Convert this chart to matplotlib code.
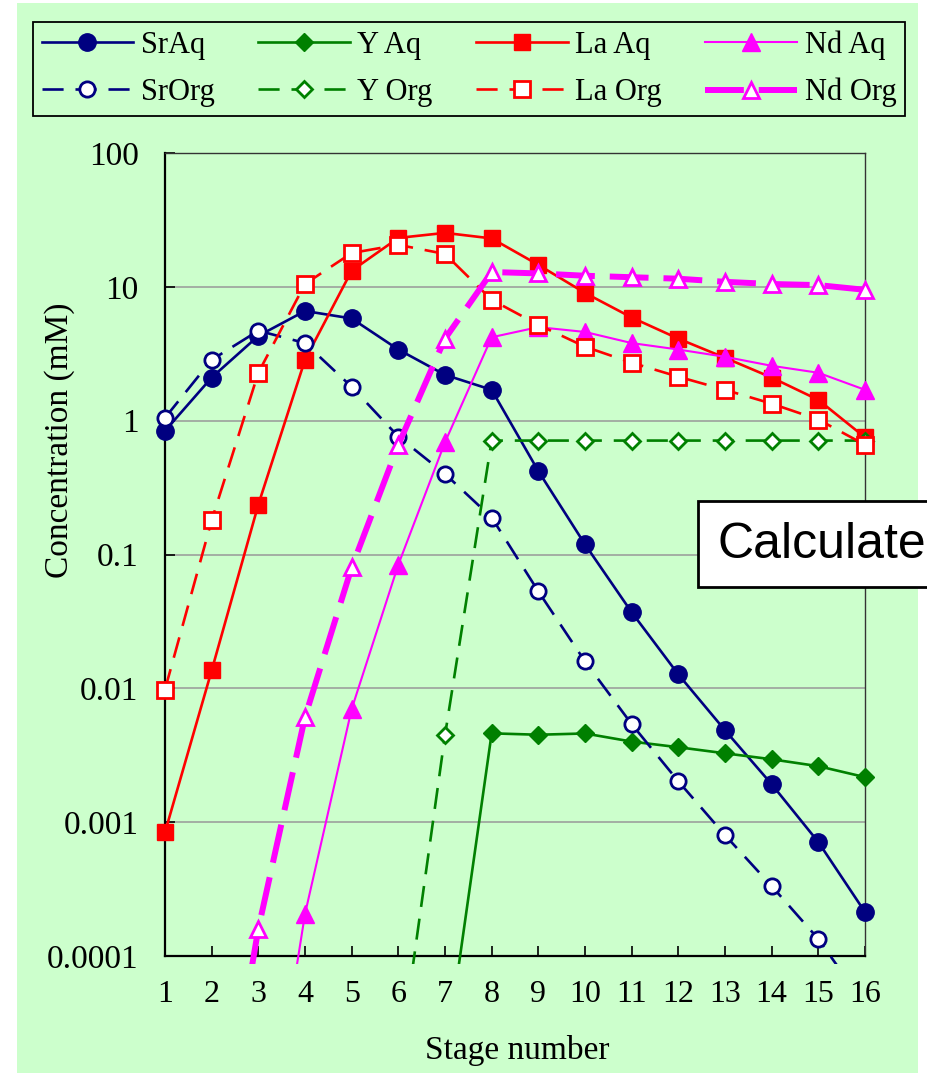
import numpy as np
import matplotlib.pyplot as plt
from matplotlib.patches import Rectangle

# stage numbers
stages = np.arange(1, 17)

# concentrations (mM)
sr_aq = [0.84, 2.1, 4.3, 6.6, 5.8, 3.4, 2.2, 1.7, 0.42, 0.119, 0.037, 0.0127,
         0.00486, 0.00192, 0.00071, 0.000213]
sr_org = [1.05, 2.85, 4.7, 3.8, 1.79, 0.76, 0.40, 0.189, 0.053, 0.0159, 0.0054,
          0.00202, 0.0008, 0.000333, 0.000134, 4.3e-5]
y_aq_stages = np.arange(7, 17)
y_aq = [1.6e-5, 0.00461, 0.0045, 0.0046, 0.0040, 0.00363, 0.00327, 0.00295,
        0.00262, 0.00217]
y_org_stages = np.arange(6, 17)
y_org = [1.4e-5, 0.00446, 0.71, 0.71, 0.71, 0.71, 0.71, 0.71, 0.71, 0.71, 0.71]
la_aq = [0.00084, 0.0136, 0.236, 2.85, 13.2, 23.2, 25.3, 23.0, 14.6, 9.0, 5.9,
         4.1, 2.95, 2.1, 1.43, 0.75]
la_org = [0.0098, 0.18, 2.28, 10.5, 17.9, 20.6, 17.6, 8.0, 5.2, 3.57, 2.71, 2.13,
          1.7, 1.34, 1.02, 0.66]
nd_aq_stages = np.arange(3, 17)
nd_aq = [1.3e-6, 0.000206, 0.0070, 0.084, 0.69, 4.2, 5.0, 4.6, 3.8, 3.4, 3.0,
         2.57, 2.28, 1.7]
nd_org_stages = np.arange(2, 17)
nd_org = [1.4e-6, 0.00016, 0.0061, 0.080, 0.66, 4.1, 12.9, 12.6, 12.1, 11.8, 11.5,
          10.9, 10.5, 10.3, 9.5]

yticks = [1e-4, 1e-3, 1e-2, 1e-1, 1, 10, 100]
ytick_labels = ['0.0001', '0.001', '0.01', '0.1', '1', '10', '100']

W, H = 927, 1073
bg = '#CCFFCC'
navy, green, red, mag = '#000080', '#008000', '#FF0000', '#FF00FF'
serif = ['Liberation Serif', 'DejaVu Serif']

fig = plt.figure(figsize=(W / 100, H / 100), dpi=100, facecolor='white')
fig.add_artist(Rectangle((17 / W, 0), 901 / W, 1070 / H, transform=fig.transFigure,
                         facecolor=bg, edgecolor='none', zorder=-5))

ax = fig.add_axes([165 / W, (H - 956) / H, 700 / W, 803 / H])
ax.set_facecolor(bg)
ax.set_yscale('log')
ax.set_ylim(1e-4, 100)
ax.set_xlim(1, 16)

# lines run a little past the bottom of the axes, like the reference
clip = Rectangle((-0.04, -0.010), 1.08, 1.05, transform=ax.transAxes,
                 facecolor='none', edgecolor='none')

series = [
    ('SrAq', stages, sr_aq, dict(color=navy, lw=1.9, marker='o', ms=12.5, mfc=navy, mec=navy)),
    ('Y Aq', y_aq_stages, y_aq, dict(color=green, lw=1.9, marker='D', ms=9.5, mfc=green, mec=green)),
    ('La Aq', stages, la_aq, dict(color=red, lw=1.9, marker='s', ms=12, mfc=red, mec=red)),
    ('Nd Aq', nd_aq_stages, nd_aq, dict(color=mag, lw=1.5, marker='^', ms=13, mfc=mag, mec=mag)),
    ('SrOrg', stages, sr_org, dict(color=navy, lw=1.9, marker='o', ms=11, mfc='white', mec=navy,
                                   mew=2, dashes=(8, 4.5))),
    ('Y Org', y_org_stages, y_org, dict(color=green, lw=1.9, marker='D', ms=8.5, mfc='white',
                                        mec=green, mew=2, dashes=(8, 4.5))),
    ('La Org', stages, la_org, dict(color=red, lw=1.9, marker='s', ms=11, mfc='white', mec=red,
                                    mew=2, dashes=(8, 4.5))),
    ('Nd Org', nd_org_stages, nd_org, dict(color=mag, lw=4.3, marker='^', ms=12, mfc='white',
                                           mec=mag, mew=2, dashes=(6.5, 2.5))),
]

handles = {}
for name, xs, ys, kw in series:
    ln, = ax.plot(xs, ys, label=name, zorder=3, **kw)
    ln.set_clip_path(clip)
    handles[name] = ln

ax.yaxis.grid(True, color='#999999', lw=1.1)
ax.set_axisbelow(True)
ax.set_yticks(yticks)
ax.set_yticklabels(ytick_labels)
ax.yaxis.set_minor_locator(plt.NullLocator())
ax.set_xticks(stages)
ax.tick_params(axis='y', direction='in', length=7, width=1.2, pad=19, labelsize=24)
ax.tick_params(axis='x', direction='in', length=7, width=1.2, pad=17, labelsize=23)
for lab in ax.get_xticklabels() + ax.get_yticklabels():
    lab.set_fontfamily(serif)
for side in ['left', 'bottom']:
    ax.spines[side].set_linewidth(1.6)
for side in ['top', 'right']:
    ax.spines[side].set_linewidth(1.0)
    ax.spines[side].set_color('#333333')

fig.text(60 / W, (H - 440) / H, 'Concentration (mM)', rotation=90, ha='center',
         va='center', fontsize=24, family=serif)
fig.text(517 / W, (H - 1050) / H, 'Stage number', ha='center', va='center',
         fontsize=24, family=serif)

order = ['SrAq', 'SrOrg', 'Y Aq', 'Y Org', 'La Aq', 'La Org', 'Nd Aq', 'Nd Org']
leg = fig.legend([handles[k] for k in order], order, loc='lower left',
                 bbox_to_anchor=(33 / W, (H - 116) / H, 872 / W, 97 / H), mode='expand',
                 ncol=4, borderaxespad=0, fancybox=False, framealpha=1,
                 facecolor=bg, edgecolor='black', handlelength=3.0, handletextpad=0.25,
                 labelspacing=0.6, borderpad=0.28, prop={'family': serif, 'size': 22})
leg.get_frame().set_linewidth(1.3)

# label box, running off the right edge
fig.add_artist(Rectangle((698 / W, (H - 587) / H), 400 / W, 86 / H, transform=fig.transFigure,
                         facecolor='white', edgecolor='black', lw=2, zorder=10))
fig.text(718 / W, (H - 545) / H, 'Calculate', ha='left', va='center', fontsize=36,
         family=['Liberation Sans', 'DejaVu Sans'], zorder=11)

fig.savefig('out.png', dpi=100)
